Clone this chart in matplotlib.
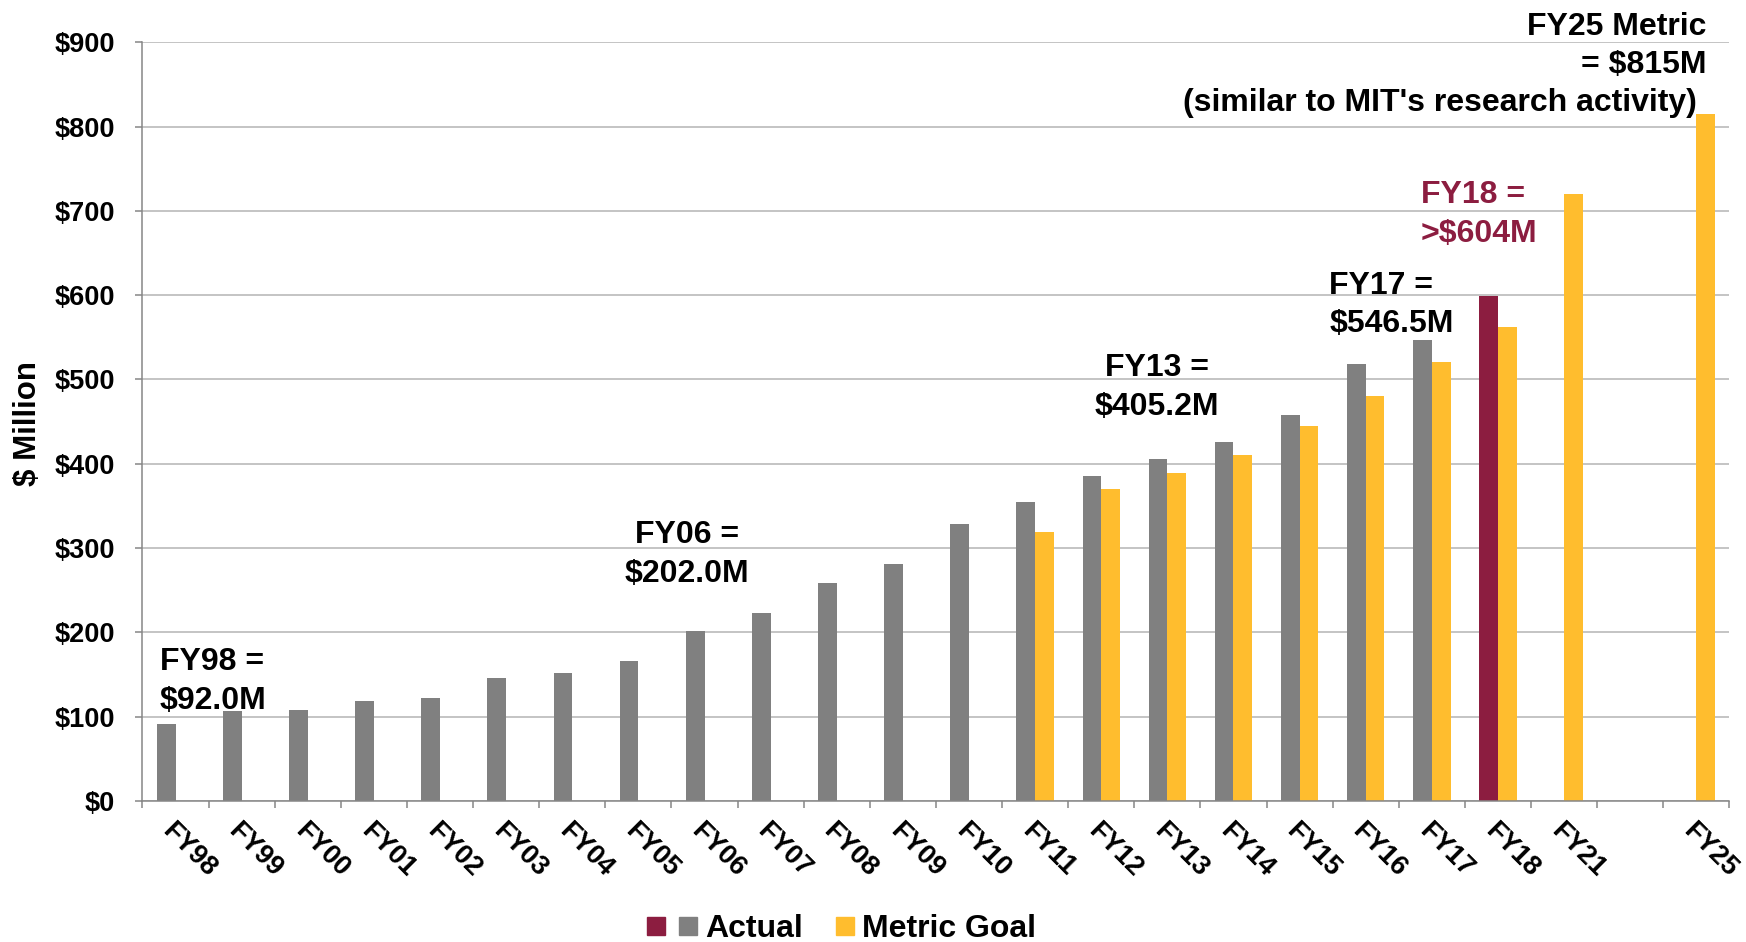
import numpy as np
import matplotlib.pyplot as plt
from matplotlib.lines import Line2D
from matplotlib.legend_handler import HandlerTuple

plt.rcParams['font.family'] = ['Liberation Sans', 'DejaVu Sans']
plt.rcParams['font.weight'] = 'bold'
plt.rcParams['text.parse_math'] = False

# fiscal years on the x axis (one empty slot between FY21 and FY25)
years = ['FY98', 'FY99', 'FY00', 'FY01', 'FY02', 'FY03', 'FY04', 'FY05', 'FY06',
         'FY07', 'FY08', 'FY09', 'FY10', 'FY11', 'FY12', 'FY13', 'FY14', 'FY15',
         'FY16', 'FY17', 'FY18', 'FY21', '', 'FY25']

# research expenditures, $ million
actual = [92.0, 106.6, 107.8, 118.6, 122.5, 145.5, 151.8, 166.4, 202.0,
          223.2, 258.8, 280.9, 328.5, 355.0, 385.5, 405.2, 426.3, 458.0,
          518.5, 546.5, 599.0, np.nan, np.nan, np.nan]
goal = [np.nan] * 13 + [318.8, 369.8, 389.5, 410.9, 444.4,
                        480.8, 520.5, 561.8, 719.5, np.nan, 815.0]

gray = '#808080'
maroon = '#8C1D40'
gold = '#FFBD2E'
axis_gray = '#868686'

fig = plt.figure(figsize=(17.46, 9.42), dpi=100)
ax = fig.add_axes([0.0816, 0.1496, 0.9089, 0.8056])

x = np.arange(len(years))
w = 0.283
actual_colors = [maroon if y == 'FY18' else gray for y in years]
ax.bar(x - w / 2, actual, w, color=actual_colors, zorder=2)
ax.bar(x + w / 2, goal, w, color=gold, zorder=2)

ax.set_xlim(-0.5, len(years) - 0.5)
ax.set_ylim(0, 900)
yt = list(range(0, 901, 100))
ax.set_yticks(yt)
ax.set_yticklabels(['$' + str(v) for v in yt])
ax.yaxis.grid(True, color='#BFBFBF', linewidth=1.3)
ax.set_axisbelow(True)

for s in ['top', 'right']:
    ax.spines[s].set_visible(False)
for s in ['left', 'bottom']:
    ax.spines[s].set_color(axis_gray)
    ax.spines[s].set_linewidth(1.1)

ax.tick_params(axis='y', length=5, width=1.1, color=axis_gray, pad=15, labelsize=19.5)
ax.set_xticks(x)
ax.set_xticklabels(years, rotation=-45, ha='left', va='top',
                   rotation_mode='anchor', fontsize=19.5)
ax.tick_params(axis='x', which='major', length=0, pad=12)
ax.set_xticks(np.arange(-0.5, len(years)), minor=True)
ax.tick_params(axis='x', which='minor', length=5, width=1.1, color=axis_gray)

fig.text(28 / 1746, 1 - 423 / 942, '$ Million', rotation=90,
         ha='center', va='center', fontsize=22.5)


def callout(xp, yp, lines, ha='left', color='black', step=45.8):
    for i, line in enumerate(lines):
        ax.text(xp, yp - i * step, line, ha=ha, va='baseline',
                fontsize=23, color=color, clip_on=False)


callout(-0.235, 155.3, ['FY98 =', '$92.0M'])
callout(7.74, 305.5, ['FY06 =', '$202.0M'], ha='center')
callout(14.84, 503.7, ['FY13 =', '$405.2M'], ha='center')
callout(17.45, 601.7, ['FY17 =', '$546.5M'])
callout(18.83, 709.0, ['FY18 =', '>$604M'], color=maroon)
callout(23.15, 908.5, ['FY25 Metric', '= $815M'], ha='right', step=45.5)
callout(23.01, 818.8, ["(similar to MIT's research activity)"], ha='right')

# legend: maroon + gray squares share the "Actual" entry
sq = dict(marker='s', linestyle='none', markersize=13)
h_actual = (Line2D([], [], color=maroon, **sq), Line2D([], [], color=gray, **sq))
h_goal = (Line2D([], [], linestyle='none'), Line2D([], [], color=gold, **sq))
fig.legend([h_actual, h_goal], ['Actual', 'Metric Goal'],
           handler_map={tuple: HandlerTuple(ndivide=None, pad=0.44)},
           loc='center', bbox_to_anchor=(0.482, 0.0138), ncol=2,
           frameon=False, fontsize=23, handlelength=1.55, handletextpad=0.26,
           columnspacing=0.05, borderpad=0, borderaxespad=0)

fig.savefig('out.png', dpi=100)
